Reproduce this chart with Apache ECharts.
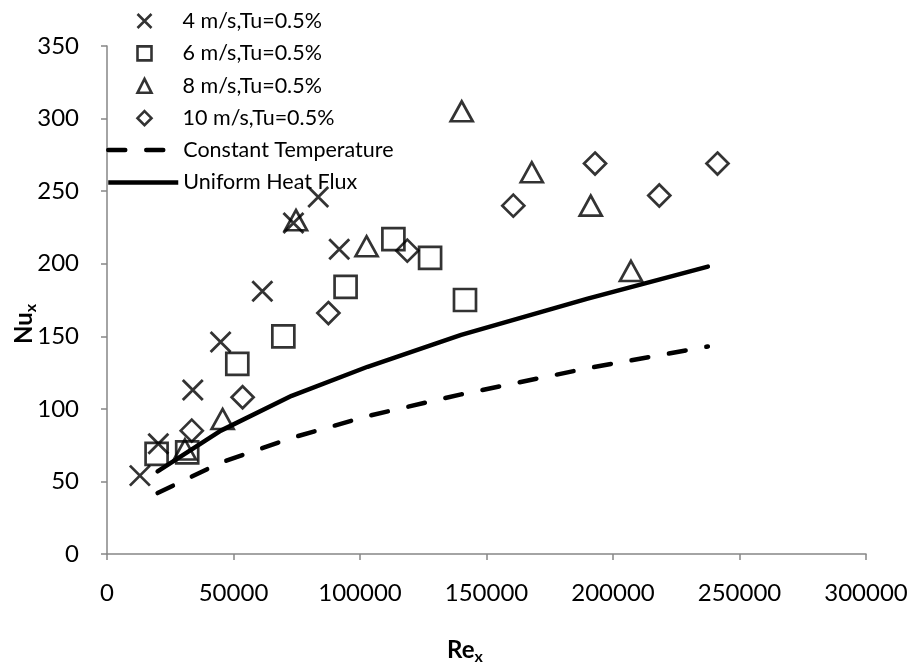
<!DOCTYPE html>
<html>
<head>
<meta charset="utf-8">
<script src="https://cdn.jsdelivr.net/npm/echarts@6/dist/echarts.min.js"></script>
<style>
  html, body { margin: 0; padding: 0; background: #ffffff; }
  #chart { width: 912px; height: 671px; }
</style>
</head>
<body>
<div id="chart"></div>
<script>
// ---- Data ----
const seriesNames = ['4 m/s,Tu=0.5%', '6 m/s,Tu=0.5%', '8 m/s,Tu=0.5%', '10 m/s,Tu=0.5%', 'Constant Temperature', 'Uniform Heat Flux'];

const v4 = [[13000, 54], [20300, 76], [33900, 113], [44900, 146], [61400, 181], [73700, 228], [83500, 246], [91800, 210]];
const v6 = [[19600, 69], [31700, 70], [51500, 131], [69700, 150], [94300, 184], [113200, 217], [127700, 204], [141500, 175]];
const v8 = [[30800, 72], [45700, 93], [74700, 230], [102600, 212], [140200, 305], [167900, 263], [191200, 240], [207100, 195]];
const v10 = [[33500, 85], [53600, 108], [87500, 166], [118700, 209], [160600, 240], [192900, 269], [218300, 247], [241300, 269]];
const constTemp = [[20000, 42], [45000, 63], [73000, 80], [103000, 95], [140000, 110], [190000, 128], [237500, 143]];
const uniformFlux = [[20000, 57], [45000, 85], [73000, 109], [103000, 129], [140000, 151], [190000, 176], [237500, 198]];

const xTicks = { min: 0, max: 300000, interval: 50000 };
const yTicks = { min: 0, max: 350, interval: 50 };

const FONT = 'Lato';
const crossPath = 'path://M0,0L10,10M10,0L0,10';
const dashPattern = [17, 21];

const chart = echarts.init(document.getElementById('chart'), null, { renderer: 'canvas' });

function scatter(name, data, symbol, size, bw) {
  return {
    name: name, type: 'scatter', data: data,
    symbol: symbol, symbolSize: size,
    itemStyle: { color: 'none', borderColor: '#000', borderWidth: bw },
    emphasis: { disabled: true },
    z: 3
  };
}

const legendText = { fontFamily: FONT, fontSize: 21.5, color: '#000', lineHeight: 26 };

const option = {
  backgroundColor: '#ffffff',
  animation: false,
  textStyle: { fontFamily: FONT },
  grid: { left: 107, right: 46, top: 46, bottom: 117, containLabel: false },
  legend: [
    {
      left: 130, top: 3, orient: 'vertical',
      itemWidth: 14, itemHeight: 14, itemGap: 6.4,
      textStyle: Object.assign({ padding: [0, 0, 0, 26] }, legendText),
      itemStyle: { color: 'none', borderColor: '#000', borderWidth: 2.6 },
      data: seriesNames.slice(0, 4),
      selectedMode: false
    },
    {
      left: 101, top: 132, orient: 'vertical',
      itemWidth: 70, itemHeight: 14, itemGap: 6.4,
      textStyle: legendText,
      data: [
        { name: seriesNames[4], itemStyle: { opacity: 0 }, lineStyle: { color: '#000', width: 4.5, type: dashPattern, cap: 'round' } },
        { name: seriesNames[5], itemStyle: { opacity: 0 }, lineStyle: { color: '#000', width: 4.5, cap: 'butt' } }
      ],
      selectedMode: false
    }
  ],
  xAxis: {
    type: 'value', min: xTicks.min, max: xTicks.max, interval: xTicks.interval,
    axisLine: { show: true, lineStyle: { color: '#868686', width: 1.5 } },
    axisTick: { show: true, length: 6, lineStyle: { color: '#868686', width: 1.5 } },
    axisLabel: { fontFamily: FONT, fontSize: 24, color: '#000', margin: 27, formatter: v => String(v) },
    splitLine: { show: false }
  },
  yAxis: {
    type: 'value', min: yTicks.min, max: yTicks.max, interval: yTicks.interval,
    axisLine: { show: true, lineStyle: { color: '#868686', width: 1.5 } },
    axisTick: { show: true, length: 6, lineStyle: { color: '#868686', width: 1.5 } },
    axisLabel: { fontFamily: FONT, fontSize: 24, color: '#000', margin: 28 },
    splitLine: { show: false }
  },
  graphic: [
    {
      type: 'text', left: 447, top: 638,
      style: {
        text: '{a|Re}{b|x}',
        rich: {
          a: { fontFamily: FONT, fontSize: 24, fontWeight: 'bold', fill: '#000' },
          b: { fontFamily: FONT, fontSize: 16, fontWeight: 'bold', fill: '#000', padding: [14, 0, 0, 0] }
        }
      }
    },
    {
      type: 'text', x: 9, y: 344, rotation: Math.PI / 2,
      style: {
        text: '{a|Nu}{b|x}',
        rich: {
          a: { fontFamily: FONT, fontSize: 24, fontWeight: 'bold', fill: '#000' },
          b: { fontFamily: FONT, fontSize: 16, fontWeight: 'bold', fill: '#000', padding: [14, 0, 0, 0] }
        }
      }
    }
  ],
  series: [
    scatter(seriesNames[0], v4, crossPath, 20, 2.8),
    scatter(seriesNames[1], v6, 'rect', 22, 2.7),
    scatter(seriesNames[2], v8, 'triangle', [22, 20], 2.7),
    scatter(seriesNames[3], v10, 'diamond', [22, 22], 2.7),
    {
      name: seriesNames[4], type: 'line', data: constTemp,
      symbol: 'none', smooth: false,
      lineStyle: { color: '#000', width: 4.5, type: dashPattern, cap: 'round' },
      itemStyle: { color: '#000' },
      emphasis: { disabled: true }, z: 2
    },
    {
      name: seriesNames[5], type: 'line', data: uniformFlux,
      symbol: 'none', smooth: false,
      lineStyle: { color: '#000', width: 4.5, cap: 'round', join: 'round' },
      itemStyle: { color: '#000' },
      emphasis: { disabled: true }, z: 2
    }
  ]
};
chart.setOption(option);
</script>
</body>
</html>
